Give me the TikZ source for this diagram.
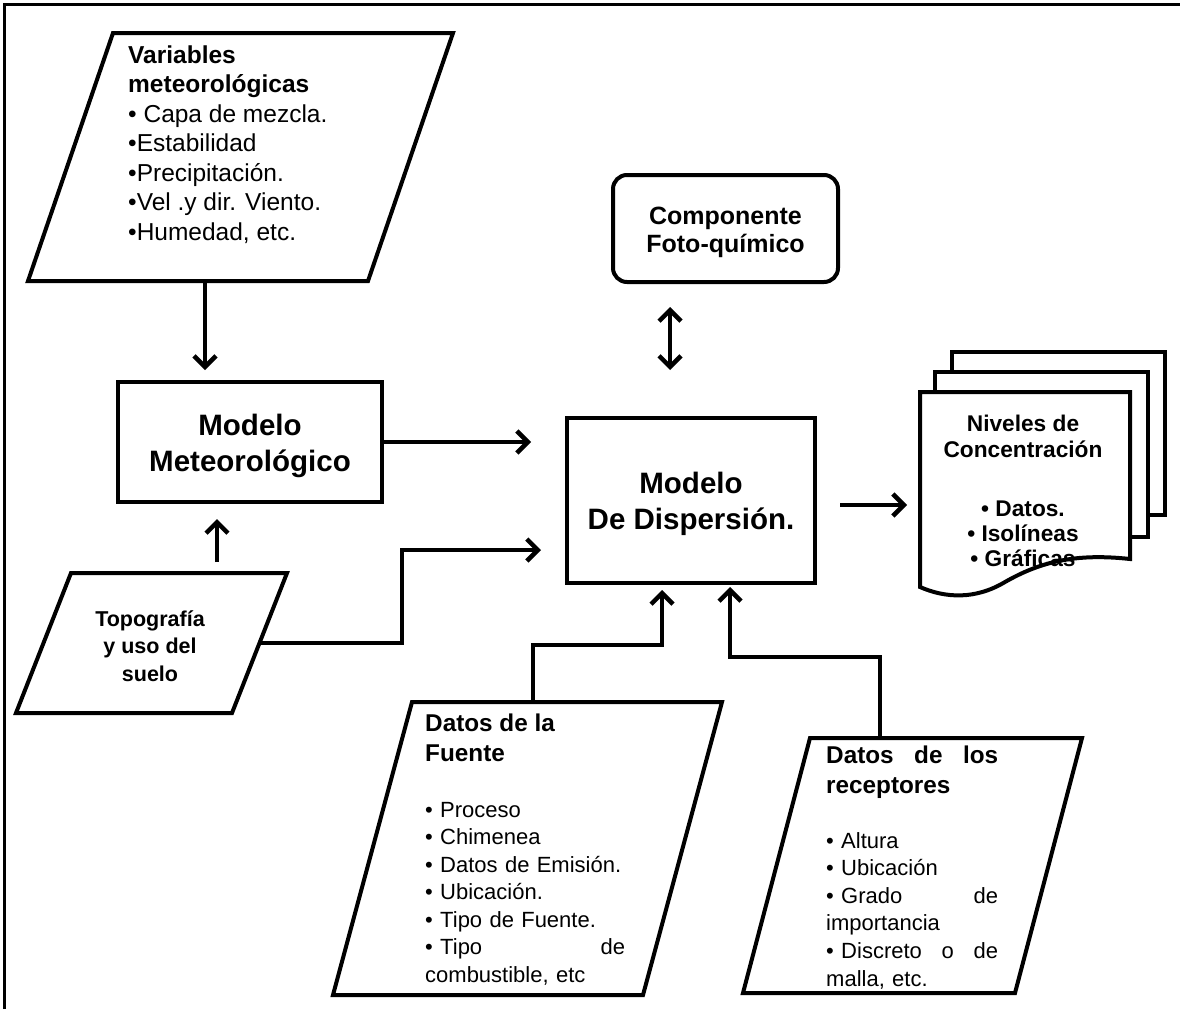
\documentclass[tikz,border=0pt]{standalone}
\usepackage{fontspec}
\setmainfont{Liberation Sans}
\usetikzlibrary{arrows.meta}
\tikzset{
  shp/.style={draw, line width=4pt, line join=miter},
  box/.style={draw, line width=4pt, fill=white, align=center, inner sep=0pt,
    font=\fontsize{29.5}{35.5}\selectfont\bfseries},
  txt/.style={inner sep=0pt, anchor=north west, align=left},
  conn/.style={line width=4.5pt, line join=miter,
    -{Straight Barb[length=11pt,width=22pt,line width=4.5pt]}},
  dbl/.style={line width=4.5pt,
    {Straight Barb[length=11pt,width=22pt,line width=4.5pt]}-{Straight Barb[length=11pt,width=22pt,line width=4.5pt]}}
}
\begin{document}
\begin{tikzpicture}[x=1pt,y=-1pt]
\useasboundingbox (0,0) rectangle (1180,1009);
\fill[white] (0,0) rectangle (1180,1009);
\draw[line width=2.5pt] (4.5,1009) -- (4.5,4.5) -- (1180,4.5);

% Variables meteorologicas
\draw[shp] (113,33) -- (453,33) -- (368,281) -- (28,281) -- cycle;
\coordinate (varB) at (205,281);
\node[txt, font=\fontsize{24.5}{29.5}\selectfont] (varT) at (128,45.5)
  {\textbf{Variables}\\\textbf{meteorológicas}\\• Capa de mezcla.\\•Estabilidad\\•Precipitación.\\•Vel .y dir. Viento.\\•Humedad, etc.};

% Modelo meteorologico
\node[box, minimum width=264pt, minimum height=120pt] (met) at (250,442) {};
\node[inner sep=0pt, align=center, font=\fontsize{29.5}{35.5}\selectfont\bfseries] (metT) at (250,446) {Modelo\\Meteorológico};

% Topografia
\draw[shp] (71,573) -- (287,573) -- (232,713) -- (16,713) -- cycle;
\coordinate (topT) at (217,562);
\coordinate (topR) at (259.5,643);
\node[inner sep=0pt, align=center, font=\fontsize{21.5}{27.5}\selectfont\bfseries] (topo) at (150,646) {Topografía\\y uso del\\suelo};

% Modelo de dispersion
\node[box, minimum width=248pt, minimum height=165pt] (disp) at (691,500.5) {};
\node[inner sep=0pt, align=center, font=\fontsize{29.5}{36}\selectfont\bfseries] (dispT) at (691,504) {Modelo\\De Dispersión.};

% Componente foto-quimico
\node[box, rounded corners=14pt, minimum width=225pt, minimum height=107pt] (comp) at (725.5,228.5) {};
\node[inner sep=0pt, align=center, font=\fontsize{25}{28}\selectfont\bfseries] (compT) at (725.5,232) {Componente\\Foto-químico};

% Niveles de concentracion (document stack)
\draw[shp, fill=white] (952,352) rectangle (1165,515);
\draw[shp, fill=white] (935,372) rectangle (1148,537);
\draw[shp, fill=white] (920,392) -- (1130,392) -- (1130,559)
  .. controls (1075,553) and (1040,562) .. (1005,582)
  .. controls (975,600) and (945,598) .. (920,587) -- cycle;
\coordinate (nivL) at (920,505);
\node[inner sep=0pt, align=center, font=\fontsize{22.7}{26}\selectfont\bfseries] (nivH) at (1023,436) {Niveles de\\Concentración};
\node[inner sep=0pt, align=center, font=\fontsize{22.7}{25}\selectfont\bfseries] (nivB) at (1023,534) {• Datos.\\• Isolíneas\\• Gráficas};

% Datos de la fuente
\draw[shp] (412,702) -- (722,702) -- (643,995) -- (333,995) -- cycle;
\coordinate (fueT) at (533,702);
\node[txt, font=\fontsize{24.3}{30}\selectfont\bfseries] (fueH) at (425,714) {Datos de la\\Fuente};
\node[txt, text width=200pt, font=\fontsize{22}{27.5}\selectfont] (fueB) at (425,802)
  {• Proceso\\• Chimenea\\• Datos de Emisión.\\• Ubicación.\\• Tipo de Fuente.\\• Tipo\hfill de\\combustible, etc};

% Datos de los receptores
\draw[shp] (810,738) -- (1082,738) -- (1015,993) -- (743,993) -- cycle;
\coordinate (recT) at (880,738);
\node[txt, text width=172pt, font=\fontsize{24.3}{30}\selectfont\bfseries] (recH) at (826,746) {Datos\hfill de\hfill los\\receptores};
\node[txt, text width=172pt, font=\fontsize{22}{27.6}\selectfont] (recB) at (826,832)
  {• Altura\\• Ubicación\\• Grado\hfill de\\importancia\\• Discreto\hfill o\hfill de\\malla, etc.};

% Connectors
\draw[conn, shorten >=10pt] (varB) -- (varB |- met.north);
\draw[conn, shorten >=15pt] (topT) -- (topT |- met.south);
\draw[conn, shorten >=34pt] (met.east) -- (met.east -| disp.west);
\coordinate (j1) at (402,643);
\coordinate (j2) at (402,550);
\draw[conn, shorten >=24pt] (topR) -- (j1) -- (j2) -- (j2 -| disp.west);
\draw[conn, shorten <=23pt, shorten >=13pt] (disp.east |- nivL) -- (nivL);
\coordinate (f1) at (533,645);
\coordinate (f2) at (662,645);
\draw[conn, shorten >=5pt] (fueT) -- (f1) -- (f2) -- (f2 |- disp.south);
\coordinate (r1) at (880,657);
\coordinate (r2) at (730,657);
\draw[conn, shorten >=2pt] (recT) -- (r1) -- (r2) -- (r2 |- disp.south);
\coordinate (dx) at (670,0);
\draw[dbl, shorten <=23pt, shorten >=46pt] (dx |- comp.south) -- (dx |- disp.north);
\end{tikzpicture}
\end{document}
